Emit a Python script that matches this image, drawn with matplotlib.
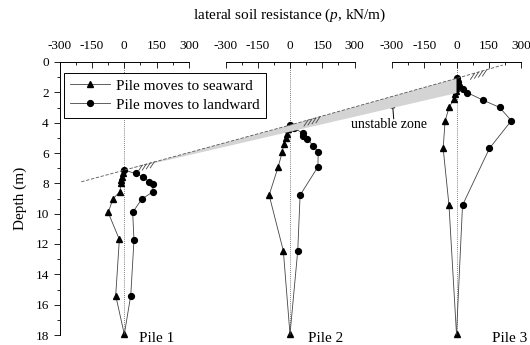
import matplotlib
matplotlib.use("Agg")
import matplotlib.pyplot as plt
from matplotlib.lines import Line2D
from matplotlib.patches import Polygon
from matplotlib.ticker import MultipleLocator

plt.rcParams['font.family'] = ['Liberation Serif', 'DejaVu Serif']
plt.rcParams['mathtext.fontset'] = 'custom'
plt.rcParams['mathtext.it'] = 'Liberation Serif:italic'
plt.rcParams['mathtext.rm'] = 'Liberation Serif'
plt.rcParams['axes.unicode_minus'] = False

# lateral soil resistance p (kN/m) against depth (m), per pile
pile1_sea_p = [0, -5, -10, -14, -16, -20, -52, -75, -23, -40, 0]
pile1_sea_d = [7.13, 7.3, 7.55, 7.78, 8.0, 8.56, 9.0, 9.92, 11.7, 15.4, 17.95]
pile1_land_p = [0, 53, 89, 117, 133, 133, 81, 39, 45, 30, 0]
pile1_land_d = [7.13, 7.35, 7.6, 7.9, 8.07, 8.56, 9.04, 9.92, 11.75, 15.4, 17.95]

pile2_sea_p = [0, -8, -16, -20, -29, -36, -55, -97, -31, 0]
pile2_sea_d = [4.16, 4.45, 4.75, 5.0, 5.42, 5.94, 6.91, 8.78, 12.45, 17.95]
pile2_land_p = [0, 20, 59, 62, 78, 109, 131, 130, 47, 36, 0]
pile2_land_d = [4.16, 4.38, 4.68, 4.9, 5.07, 5.52, 5.94, 6.91, 8.78, 12.45, 17.95]

pile3_sea_p = [0, -3, -4, -3, -4, -5, -13, -34, -53, -62, -35, 0]
pile3_sea_d = [1.08, 1.3, 1.5, 1.7, 1.9, 2.1, 2.46, 2.99, 3.87, 5.7, 9.44, 17.95]
pile3_land_p = [0, 5, 12, 28, 50, 121, 200, 255, 153, 28, 0]
pile3_land_d = [1.08, 1.35, 1.6, 1.8, 2.02, 2.5, 2.99, 3.87, 5.7, 9.44, 17.95]

pile_names = ['Pile 1', 'Pile 2', 'Pile 3']
pile_tops = [7.13, 4.16, 1.08]      # ground surface depth at each pile
zone_bottom_pile3 = 2.05            # lower edge of the unstable zone at pile 3
xticks = [-300, -150, 0, 150, 300]
yticks = list(range(0, 19, 2))

W, H = 530, 345
fig = plt.figure(figsize=(W / 100, H / 100), dpi=100)

lefts = [59.8, 225.5, 392.0]
axes = []
for i, left in enumerate(lefts):
    ax = fig.add_axes([left / W, 10 / H, 129 / W, 273 / H])
    ax.set_xlim(-300, 300)
    ax.set_ylim(18, 0)
    ax.patch.set_alpha(0)
    for s in ['bottom', 'right']:
        ax.spines[s].set_visible(False)
    ax.spines['top'].set_linewidth(0.7)
    ax.xaxis.tick_top()
    ax.set_xticks(xticks)
    ax.xaxis.set_minor_locator(MultipleLocator(75))
    ax.tick_params(axis='x', which='major', direction='in', length=4, width=0.6, pad=7, labelsize=9.5)
    ax.tick_params(axis='x', which='minor', direction='in', length=2, width=0.6)
    if i == 0:
        ax.spines['left'].set_linewidth(0.7)
        ax.set_yticks(yticks)
        ax.yaxis.set_minor_locator(MultipleLocator(1))
        ax.tick_params(axis='y', which='major', direction='out', length=4, width=0.6, pad=4, labelsize=9.5)
        ax.tick_params(axis='y', which='minor', direction='out', length=2, width=0.6)
        ax.set_ylabel('Depth (m)', fontsize=11, labelpad=6)
    else:
        ax.spines['left'].set_visible(False)
        ax.set_yticks([])
    ax.axvline(0, color='#555555', lw=0.6, ls=(0, (1, 1.5)), zorder=1)
    axes.append(ax)

series = [(pile1_sea_p, pile1_sea_d, pile1_land_p, pile1_land_d),
          (pile2_sea_p, pile2_sea_d, pile2_land_p, pile2_land_d),
          (pile3_sea_p, pile3_sea_d, pile3_land_p, pile3_land_d)]
label_p = [150, 165, 245]
for ax, (sp, sd, lp, ld), name, lx in zip(axes, series, pile_names, label_p):
    # seaward triangles under the landward circles at the pile head,
    # triangle alone at the pile toe
    ax.plot(sp, sd, color='#444444', lw=0.6, marker='^', ms=4.2, mfc='black', mec='black',
            clip_on=False, zorder=4, markevery=list(range(1, len(sp))))
    ax.plot(lp, ld, color='#444444', lw=0.6, marker='o', ms=4.2, mfc='black', mec='black',
            clip_on=False, zorder=5, markevery=list(range(len(lp) - 1)))
    ax.text(lx, 18.22, name, ha='center', va='center', fontsize=11, clip_on=False)


def to_px(ax, p, d):
    return ax.transData.transform((p, d))


def to_fig(pt):
    return fig.transFigure.inverted().transform(pt)


# unstable zone: grey wedge under the sloping ground surface
tops = [to_px(ax, 0, d) for ax, d in zip(axes, pile_tops)]
low3 = to_px(axes[2], 0, zone_bottom_pile3)
wedge = Polygon([to_fig(tops[0]), to_fig(tops[1]), to_fig(tops[2]), to_fig(low3)],
                closed=True, transform=fig.transFigure, facecolor='#d4d4d4',
                edgecolor='none', zorder=2)
fig.patches.append(wedge)

left_end = to_px(axes[0], -200, 7.9)
right_end = to_px(axes[2], 215, 0.2)
surface = [left_end, tops[0], tops[1], tops[2], right_end]
fig.lines.append(Line2D([to_fig(p)[0] for p in surface], [to_fig(p)[1] for p in surface],
                        transform=fig.transFigure, color='#555555', lw=0.6,
                        ls=(0, (4, 2)), zorder=3))

# ground hatching just right of each pile head
slope = (right_end[1] - left_end[1]) / (right_end[0] - left_end[0])
for top in tops:
    for dx in [18, 22, 26, 30]:
        x0, y0 = top[0] + dx, top[1] + slope * dx
        a, b = to_fig((x0, y0)), to_fig((x0 - 4, y0 - 6))
        fig.lines.append(Line2D([a[0], b[0]], [a[1], b[1]], transform=fig.transFigure,
                                color='#444444', lw=0.6, zorder=3))

axes[2].text(-315, 4.15, 'unstable zone', ha='center', va='center', fontsize=10, clip_on=False)
axes[2].annotate('', xy=(-298, 2.7), xytext=(-292, 3.75), annotation_clip=False,
                 arrowprops=dict(arrowstyle='-|>', color='black', lw=0.7,
                                 mutation_scale=7, shrinkA=0, shrinkB=0))

fig.text(290 / W, 1 - 15 / H, 'lateral soil resistance $(p$, kN/m)', ha='center', va='center',
         fontsize=11)

handles = [Line2D([], [], color='#444444', lw=0.6, marker='^', ms=4.2, mfc='black', mec='black'),
           Line2D([], [], color='#444444', lw=0.6, marker='o', ms=4.2, mfc='black', mec='black')]
leg = fig.legend(handles, ['Pile moves to seaward', 'Pile moves to landward'],
                 loc='upper left', bbox_to_anchor=(64 / W, 1 - 73 / H), borderaxespad=0,
                 fontsize=11, fancybox=False, framealpha=1, edgecolor='black',
                 handlelength=2.6, handletextpad=0.4, labelspacing=0.35, borderpad=0.4)
leg.get_frame().set_linewidth(0.7)

fig.savefig('out.png', dpi=100)
